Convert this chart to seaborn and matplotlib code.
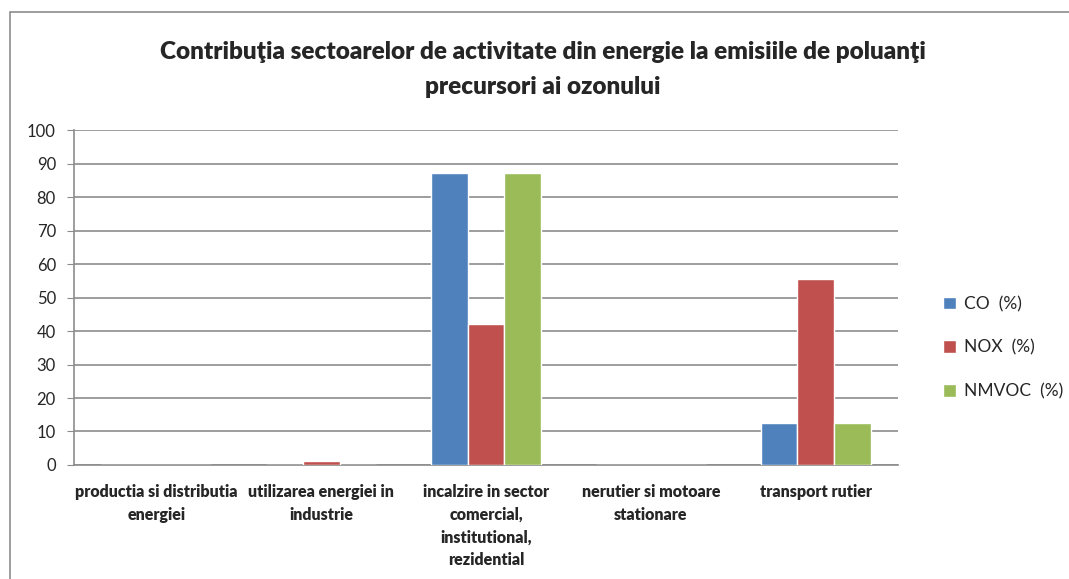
import matplotlib
matplotlib.use("Agg")
import matplotlib.pyplot as plt
import seaborn as sns
import pandas as pd
from matplotlib.patches import Rectangle

# Data
sectors = [
    "productia si distributia\nenergiei",
    "utilizarea energiei in\nindustrie",
    "incalzire in sector\ncomercial,\ninstitutional,\nrezidential",
    "nerutier si motoare\nstationare",
    "transport rutier",
]
co = [0.1, 0.1, 87.2, 0.1, 12.5]
nox = [0.1, 1.2, 42.1, 0.1, 55.5]
nmvoc = [0.1, 0.1, 87.2, 0.1, 12.5]
series = ["CO  (%)", "NOX  (%)", "NMVOC  (%)"]
colors = ["#4F81BD", "#C0504D", "#9BBB59"]

df = pd.DataFrame({
    "sector": sectors * 3,
    "value": co + nox + nmvoc,
    "series": [series[0]] * 5 + [series[1]] * 5 + [series[2]] * 5,
})

sns.set_style("white")
plt.rcParams["font.family"] = ["Lato", "DejaVu Sans"]

fig = plt.figure(figsize=(10.69, 5.79), dpi=100)
ax = fig.add_axes([0.0692, 0.197, 0.771, 0.578])

sns.barplot(data=df, x="sector", y="value", hue="series", palette=colors,
            width=0.667, saturation=1, ax=ax, zorder=3)

ax.set_ylim(0, 100)
ax.set_yticks(range(0, 101, 10))
ax.set_xlim(-0.5, 4.5)
ax.yaxis.grid(True, color="#8c8c8c", linewidth=1.2, zorder=0)
ax.set_axisbelow(True)
ax.set_xlabel("")
ax.set_ylabel("")
for side in ["top", "right"]:
    ax.spines[side].set_visible(False)
for side in ["left", "bottom"]:
    ax.spines[side].set_color("#8c8c8c")
    ax.spines[side].set_linewidth(1.2)
ax.tick_params(axis="y", labelsize=12, length=5, color="#8c8c8c", pad=8,
               left=True, direction="out")
ax.tick_params(axis="x", length=0, pad=14)
for lbl in ax.get_xticklabels():
    lbl.set_fontsize(11.5)
    lbl.set_fontweight("heavy")
    lbl.set_linespacing(1.5)

leg = ax.legend(loc="center left", bbox_to_anchor=(1.035, 0.35), frameon=False,
                fontsize=12.5, handlelength=0.75, handleheight=0.75,
                handletextpad=0.5, labelspacing=1.6)

fig.suptitle("Contribuţia sectoarelor de activitate din energie la emisiile de poluanţi\nprecursori ai ozonului",
             x=0.508, y=0.93, fontsize=17.5, fontweight="heavy", linespacing=1.75)

# outer chart border
fig.patches.append(Rectangle((0.0095, -0.01), 1.0, 0.989, transform=fig.transFigure,
                             fill=False, edgecolor="#8c8c8c", linewidth=1.2))

fig.savefig("out.png", dpi=100)
